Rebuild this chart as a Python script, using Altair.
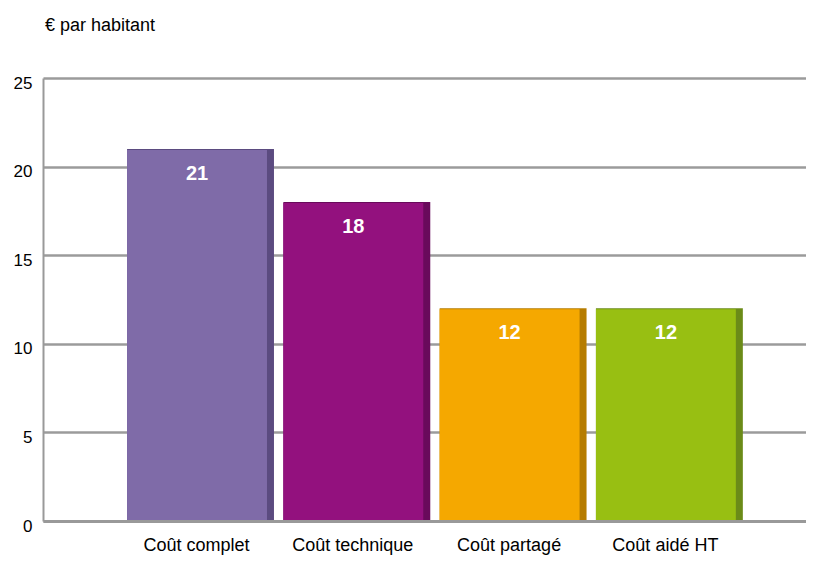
import altair as alt
import pandas as pd

categories = ["Coût complet", "Coût technique", "Coût partagé", "Coût aidé HT"]
values = [21, 18, 12, 12]
face_colors = ["#7F6BA8", "#93117E", "#F5A800", "#98BF12"]
side_colors = ["#5B4B80", "#690A5B", "#B67C00", "#6B8B18"]
y_ticks = [0, 5, 10, 15, 20, 25]

df = pd.DataFrame({"cat": categories, "val": values, "face": face_colors, "side": side_colors})

FONT = "Liberation Sans, Arial, sans-serif"

x = alt.X(
    "cat:N",
    sort=categories,
    scale=alt.Scale(paddingInner=0.06, paddingOuter=0.471, align=0.571),
    axis=alt.Axis(
        title=None, labelAngle=0, labelFont=FONT, labelFontSize=18, labelColor="#000",
        labelPadding=15, labelOffset=-4, ticks=False, domain=True,
        domainColor="#999999", domainWidth=3, grid=False, zindex=1,
    ),
)
y = alt.Y(
    "val:Q",
    scale=alt.Scale(domain=[0, 25]),
    axis=alt.Axis(
        title=None, values=y_ticks, gridColor="#9b9b9b", gridWidth=2.5, ticks=False,
        domainColor="#999999", domainWidth=2, labelPadding=11, labelFontSize=17,
        labelFont=FONT, labelColor="#000", labelOffset=5,
    ),
)

base = alt.Chart(df)
side = base.mark_bar().encode(x=x, y=y, color=alt.Color("side:N", scale=None))
face = base.mark_bar(width={"band": 140 / 147}, xOffset=-3.5, yOffset=1).encode(
    x=x, y=y, color=alt.Color("face:N", scale=None)
)
labels = base.mark_text(
    color="white", fontWeight="bold", fontSize=20, font=FONT, baseline="middle", dy=25, xOffset=-3.5
).encode(x=x, y=y, text=alt.Text("val:Q"))

chart = (
    alt.layer(side, face, labels)
    .properties(
        width=763,
        height=443,
        title=alt.TitleParams(
            "€ par habitant", anchor="start", frame="group", dx=2, offset=39,
            font=FONT, fontSize=18, fontWeight="normal", color="#000",
        ),
        autosize=alt.AutoSizeParams(type="none"),
        padding={"left": 35, "top": 70, "right": 0, "bottom": 35},
    )
    .configure_view(stroke=None)
)

chart.save("out.html", embed_options={"renderer": "svg", "actions": False})
